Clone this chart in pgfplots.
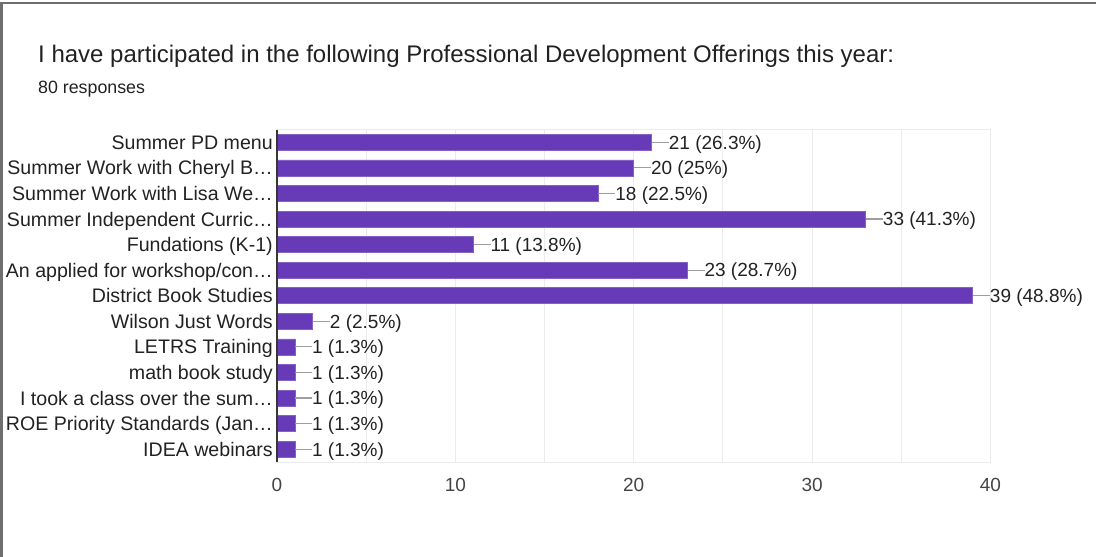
\documentclass[border=0pt]{standalone}
\usepackage{fontspec}
\setmainfont{Liberation Sans}
\usepackage{pgfplots}
\pgfplotsset{compat=1.18}
\definecolor{barc}{HTML}{673AB7}
\definecolor{titlec}{HTML}{212121}
\definecolor{labelc}{HTML}{222222}
\definecolor{tickc}{HTML}{444444}
\definecolor{gridc}{HTML}{EBEBEB}
\definecolor{leaderc}{HTML}{9E9E9E}
\definecolor{framec}{HTML}{6E6E6E}
\newcommand\lblfont{\fontsize{19}{22}\selectfont}
\newcommand\catfont{\fontsize{19.6}{22}\selectfont}

\begin{document}
\begin{tikzpicture}[x=1pt,y=1pt]
\useasboundingbox (0,0) rectangle (1096,557);
% image frame (top and left only)
\draw[framec, line width=2.5pt] (1.5,0) -- (1.5,554) -- (1096,554);

\node[anchor=base west, inner sep=0, text=titlec, font=\fontsize{24}{27}\selectfont]
  at (38,494) {I have participated in the following Professional Development Offerings this year:};
\node[anchor=base west, inner sep=0, text=titlec, font=\fontsize{17.8}{20}\selectfont]
  at (38,463) {80 responses};

\begin{axis}[
  at={(277pt,95pt)}, anchor=south west,
  width=713.5pt, height=332.5pt, scale only axis,
  xbar, bar width=16pt,
  xmin=0, xmax=40, ymin=-0.5, ymax=12.5,
  y dir=reverse, enlargelimits=false, clip=false,
  axis line style={draw=gridc, line width=1pt},
  xtick={0,10,20,30,40}, minor xtick={5,15,25,35},
  xmajorgrids, xminorgrids,
  major grid style={draw=gridc, line width=1pt},
  minor grid style={draw=gridc, line width=1pt},
  major tick length=0pt, minor tick length=0pt,
  ytick={0,...,12},
  yticklabels={Summer PD menu, Summer Work with Cheryl B…, Summer Work with Lisa We…,
    Summer Independent Curric…, Fundations (K-1), An applied for workshop/con…,
    District Book Studies, Wilson Just Words, LETRS Training, math book study,
    I took a class over the sum…, ROE Priority Standards (Jan…, IDEA webinars},
  yticklabel style={anchor=east, inner sep=0pt, xshift=-4pt, text=labelc,
    font=\catfont, text height=14pt, text depth=0pt},
  xticklabel style={anchor=north, inner sep=0pt, yshift=-16pt, text=tickc,
    font=\lblfont},
  /pgf/number format/assume math mode=true,
  point meta=explicit symbolic,
  nodes near coords={\textcolor{leaderc}{\rule[6.3pt]{17pt}{1.1pt}}\pgfplotspointmeta},
  every node near coord/.append style={anchor=west, inner sep=0pt, xshift=0pt,
    text=labelc, font=\lblfont, text height=13.6pt, text depth=0pt},
]
\addplot[fill=barc, draw=barc!80!white, line width=0.6pt] coordinates {
  (21,0)  [21 (26.3\%)]
  (20,1)  [20 (25\%)]
  (18,2)  [18 (22.5\%)]
  (33,3)  [33 (41.3\%)]
  (11,4)  [11 (13.8\%)]
  (23,5)  [23 (28.7\%)]
  (39,6)  [39 (48.8\%)]
  (2,7)   [2 (2.5\%)]
  (1,8)   [1 (1.3\%)]
  (1,9)   [1 (1.3\%)]
  (1,10)  [1 (1.3\%)]
  (1,11)  [1 (1.3\%)]
  (1,12)  [1 (1.3\%)]
};
\draw[titlec!90!white, line width=1.3pt] (rel axis cs:0,0) -- (rel axis cs:0,1);
\end{axis}
\end{tikzpicture}
\end{document}
